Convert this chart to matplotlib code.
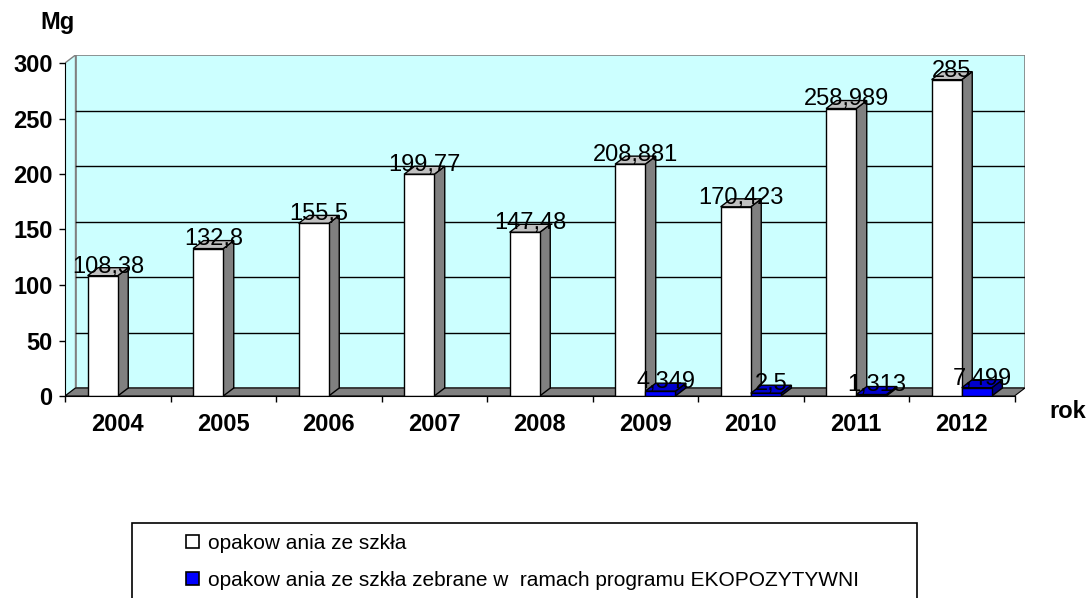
import numpy as np
import matplotlib
matplotlib.use('Agg')
import matplotlib.pyplot as plt
from matplotlib.patches import Polygon, Rectangle, Patch

plt.rcParams['font.family'] = ['Liberation Sans', 'DejaVu Sans']

years = ['2004', '2005', '2006', '2007', '2008', '2009', '2010', '2011', '2012']
glass = [108.38, 132.8, 155.5, 199.77, 147.48, 208.881, 170.423, 258.989, 285]
eko = [None, None, None, None, None, 4.349, 2.5, 1.313, 7.499]
series_names = ['opakow ania ze szkła',
                'opakow ania ze szkła zebrane w  ramach programu EKOPOZYTYWNI']
y_ticks = [0, 50, 100, 150, 200, 250, 300]

W, H = 1091, 598
px_x = 105.5      # pixels per category
px_y = 1.11       # pixels per Mg
DX = 10.5 / px_x  # depth offset in data units
DY = 8 / px_y
YMAX = 300
N = len(years)

fig = plt.figure(figsize=(W / 100, H / 100), dpi=100)
x0_px, y0_px = 65, 396
ax = fig.add_axes([x0_px / W, (H - y0_px) / H,
                   (N + DX) * px_x / W, (YMAX + DY) * px_y / H])
ax.set_xlim(0, N + DX)
ax.set_ylim(0, YMAX + DY)
ax.patch.set_visible(False)

CYAN = '#CCFFFF'
GREY = '#808080'

# walls and floor
ax.add_patch(Rectangle((DX, DY), N, YMAX, facecolor=CYAN, edgecolor=GREY, lw=1.2, zorder=0))
ax.add_patch(Polygon([(0, 0), (0, YMAX), (DX, YMAX + DY), (DX, DY)], closed=True,
                     facecolor=CYAN, edgecolor=GREY, lw=1.0, zorder=0))
for t in y_ticks[1:-1]:
    ax.plot([DX, N + DX], [t + DY, t + DY], color='black', lw=1.0, zorder=1)
ax.add_patch(Polygon([(0, 0), (N, 0), (N + DX, DY), (DX, DY)], closed=True,
                     facecolor=GREY, edgecolor='black', lw=0.8, zorder=1))

bw = 1 / 3.5
gap = (1 - 2 * bw) / 2


def bar3d(xl, v, front, side, top):
    xr = xl + bw
    ax.add_patch(Polygon([(xr, 0), (xr + DX, DY), (xr + DX, v + DY), (xr, v)], closed=True,
                         facecolor=side, edgecolor='black', lw=1.0, zorder=3))
    ax.add_patch(Polygon([(xl, v), (xr, v), (xr + DX, v + DY), (xl + DX, v + DY)], closed=True,
                         facecolor=top, edgecolor='black', lw=1.0, zorder=3))
    ax.add_patch(Rectangle((xl, 0), bw, v, facecolor=front, edgecolor='black', lw=1.0, zorder=3))


def lab(xl, v):
    ax.text(xl + bw / 2 + DX / 2, v + DY + 1, f'{v:g}'.replace('.', ','),
            ha='center', va='center', fontsize=17, color='black', zorder=5)


for i in range(N):
    xl = i + gap
    bar3d(xl, glass[i], 'white', GREY, '#C0C0C0')
    if eko[i] is not None:
        bar3d(xl + bw, eko[i], '#0000FF', '#000080', '#0000CC')
for i in range(N):
    xl = i + gap
    lab(xl, glass[i])
    if eko[i] is not None:
        lab(xl + bw, eko[i])

# axes
for s in ['top', 'right']:
    ax.spines[s].set_visible(False)
ax.spines['left'].set_bounds(0, YMAX)
ax.spines['bottom'].set_bounds(0, N)
ax.spines['left'].set_zorder(4)
ax.spines['bottom'].set_zorder(4)
ax.set_yticks(y_ticks)
ax.set_yticklabels([str(t) for t in y_ticks], fontsize=17, fontweight='bold')
ax.set_xticks(np.arange(N + 1))
ax.set_xticklabels([])
ax.set_xticks(np.arange(N) + 0.5, minor=True)
ax.set_xticklabels(years, minor=True, fontsize=17, fontweight='bold')
ax.tick_params(axis='x', which='minor', length=0, pad=12)
ax.tick_params(axis='both', which='major', length=4, width=1, direction='out')
ax.tick_params(axis='y', pad=5)

fig.text(57 / W, 1 - 22 / H, 'Mg', ha='center', va='center', fontsize=17, fontweight='bold')
fig.text(1068 / W, 1 - 412 / H, 'rok', ha='center', va='center', fontsize=17, fontweight='bold')

# legend
handles = [Patch(facecolor='white', edgecolor='black', lw=1.2),
           Patch(facecolor='#0000FF', edgecolor='black', lw=1.2)]
fig.legend(handles, series_names, loc='upper left', bbox_to_anchor=(186 / W, 1 - 534 / H),
           frameon=False, fontsize=15, handlelength=0.62, handleheight=0.62,
           handletextpad=0.43, labelspacing=0.85, borderpad=0, borderaxespad=0)
fig.add_artist(Rectangle((132 / W, -0.1), (917 - 132) / W, 0.1 + (598 - 523) / H,
                         transform=fig.transFigure, fill=False, edgecolor='black', lw=1.2))

fig.savefig('out.png', dpi=100)
